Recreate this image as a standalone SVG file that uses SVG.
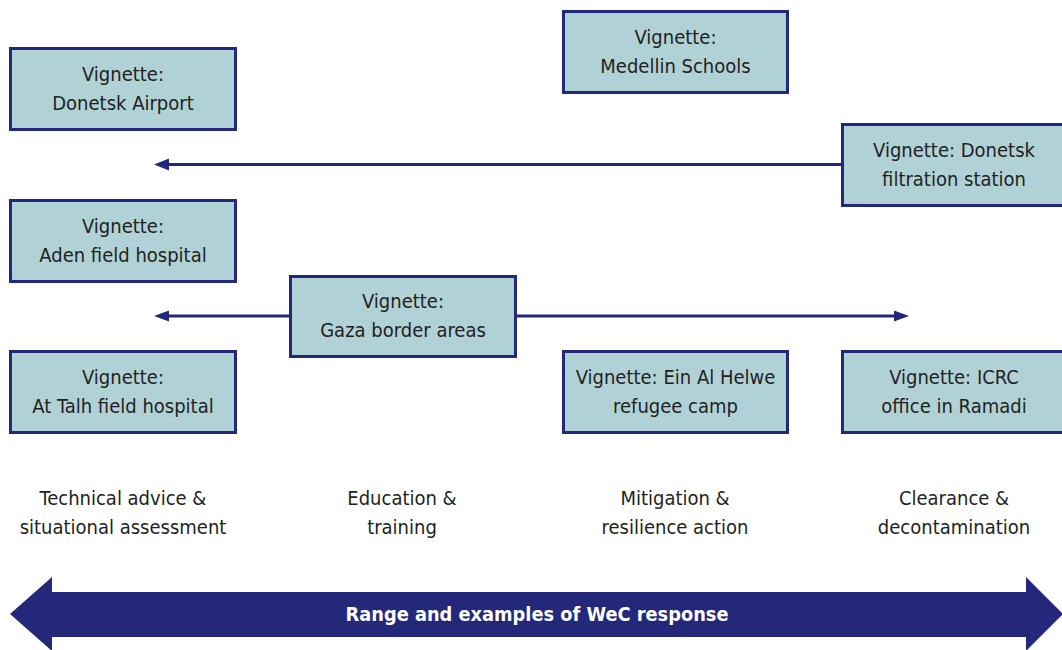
<svg xmlns="http://www.w3.org/2000/svg" width="1062" height="650" viewBox="0 0 1062 650">
<style>
.box{fill:#b0d2d7;stroke:#23287b;stroke-width:3}
.t{font-family:"Liberation Sans Narrow","DejaVu Sans Condensed","Liberation Sans",sans-serif;font-size:20px;fill:#231f20;text-anchor:middle}
.ln{stroke:#23287b;stroke-width:3;fill:none}
.big{fill:#23287b}
.bt{font-family:"Liberation Sans Narrow","DejaVu Sans Condensed","Liberation Sans",sans-serif;font-size:20px;font-weight:bold;fill:#ffffff;text-anchor:middle}
</style>
<rect width="1062" height="650" fill="#ffffff"/>
<g id="connectors">
<path class="ln" d="M842,164.5 H168"/>
<path d="M154,164.5 L169,158.5 L169,170.5 Z" fill="#23287b"/>
<path class="ln" d="M290,316 H168"/>
<path d="M154,316 L169,310.5 L169,321.5 Z" fill="#23287b"/>
<path class="ln" d="M515,316 H895"/>
<path d="M909,316 L894,310.5 L894,321.5 Z" fill="#23287b"/>
</g>
<g id="range-arrow">
<path class="big" d="M10,614 L52,577 L52,592 L1026,592 L1026,577 L1063,614 L1026,651 L1026,637 L52,637 L52,651 Z"/>
<text class="bt" x="537" y="621" textLength="383" lengthAdjust="spacingAndGlyphs">Range and examples of WeC response</text>
</g>
<g id="donetsk-airport">
<rect class="box" x="10.5" y="48.5" width="225" height="81"/>
<text class="t" x="123" y="81">Vignette:</text>
<text class="t" x="123" y="110">Donetsk Airport</text>
</g>
<g id="medellin-schools">
<rect class="box" x="563.5" y="11.5" width="224" height="81"/>
<text class="t" x="675.5" y="44">Vignette:</text>
<text class="t" x="675.5" y="73">Medellin Schools</text>
</g>
<g id="donetsk-filtration">
<rect class="box" x="842.5" y="124.5" width="222" height="81"/>
<text class="t" x="954" y="157">Vignette: Donetsk</text>
<text class="t" x="954" y="186">filtration station</text>
</g>
<g id="aden-field-hospital">
<rect class="box" x="10.5" y="200.5" width="225" height="81"/>
<text class="t" x="123" y="233">Vignette:</text>
<text class="t" x="123" y="262">Aden field hospital</text>
</g>
<g id="gaza-border-areas">
<rect class="box" x="290.5" y="276.5" width="225" height="80"/>
<text class="t" x="403" y="308">Vignette:</text>
<text class="t" x="403" y="337">Gaza border areas</text>
</g>
<g id="at-talh-field-hospital">
<rect class="box" x="10.5" y="351.5" width="225" height="81"/>
<text class="t" x="123" y="384">Vignette:</text>
<text class="t" x="123" y="413">At Talh field hospital</text>
</g>
<g id="ein-al-helwe">
<rect class="box" x="563.5" y="351.5" width="224" height="81"/>
<text class="t" x="675.5" y="384">Vignette: Ein Al Helwe</text>
<text class="t" x="675.5" y="413">refugee camp</text>
</g>
<g id="icrc-ramadi">
<rect class="box" x="842.5" y="351.5" width="222" height="81"/>
<text class="t" x="954" y="384">Vignette: ICRC</text>
<text class="t" x="954" y="413">office in Ramadi</text>
</g>
<g id="categories">
<text class="t" x="123" y="505">Technical advice &amp;</text>
<text class="t" x="123" y="534">situational assessment</text>
<text class="t" x="402" y="505">Education &amp;</text>
<text class="t" x="402" y="534">training</text>
<text class="t" x="675" y="505">Mitigation &amp;</text>
<text class="t" x="675" y="534">resilience action</text>
<text class="t" x="954" y="505">Clearance &amp;</text>
<text class="t" x="954" y="534">decontamination</text>
</g>
</svg>
